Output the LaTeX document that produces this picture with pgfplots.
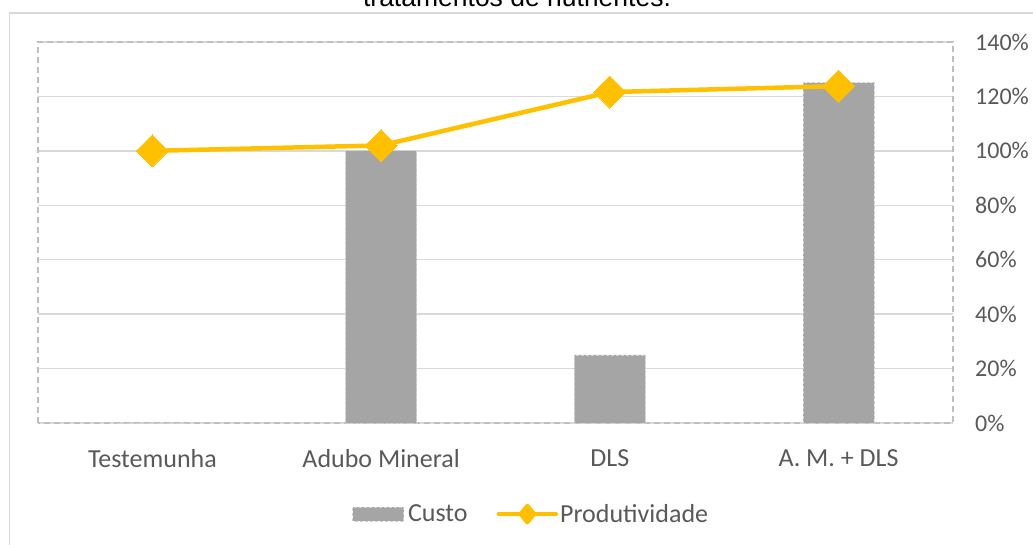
\documentclass[border=0pt]{standalone}
\usepackage{fontspec}
\setmainfont{Carlito}
\newfontfamily\titlefont{Liberation Sans}
\usepackage{pgfplots}
\pgfplotsset{compat=1.18}
\definecolor{barGray}{HTML}{A5A5A5}
\definecolor{barEdge}{HTML}{D0D0D0}
\definecolor{lineGold}{HTML}{FFC000}
\definecolor{gridGray}{HTML}{D9D9D9}
\definecolor{borderGray}{HTML}{BFBFBF}
\definecolor{txtGray}{HTML}{595959}
\begin{document}
\begin{tikzpicture}
\path[use as bounding box] (0pt,0pt) rectangle (1033pt,545pt);
\draw[gridGray, line width=1.3pt] (9.5pt,-20pt) rectangle (1060pt,532pt);
\node[anchor=base, inner sep=0pt, font=\titlefont\fontsize{26.5}{30}\selectfont] at (517pt,538pt) {tratamentos de nutrientes.};
\begin{axis}[
  at={(38pt,122pt)}, anchor=south west,
  scale only axis, width=915pt, height=381pt,
  xmin=-0.5, xmax=3.5, ymin=0, ymax=140,
  xtick={0,1,2,3},
  xticklabels={Testemunha, Adubo Mineral, DLS, A. M. + DLS},
  ytick={0,20,...,140},
  yticklabel={\pgfmathprintnumber{\tick}\%},
  /pgf/number format/assume math mode=true,
  yticklabel pos=right,
  major tick length=0pt,
  ymajorgrids, grid style={gridGray, line width=1.3pt},
  axis line style={borderGray, dashed, line width=1.3pt, dash pattern=on 6pt off 4pt},
  ticklabel style={font=\fontsize{24}{28}\selectfont, text=txtGray},
  yticklabel style={anchor=west, inner sep=0pt, xshift=22pt},
  xticklabel style={anchor=north, inner sep=0pt, yshift=-26pt, font=\fontsize{26}{30}\selectfont},
  legend style={at={(0.539,-0.239)}, anchor=center, draw=none, fill=none,
    font=\fontsize{26}{30}\selectfont, text=txtGray, legend columns=2,
    /tikz/every even column/.append style={column sep=27pt},
    inner sep=0pt},
  clip=false,
]
\addplot[ybar, bar width=71pt, fill=barGray, draw=barEdge, line width=0.8pt, densely dashed,
  legend image code/.code={\draw[fill=barGray, draw=barEdge, line width=0.8pt, densely dashed] (0pt,-7pt) rectangle (51pt,7pt);}]
  coordinates {(0,0) (1,100) (2,25) (3,125)};
\addlegendentry{\hspace{2pt}Custo}
\addplot[lineGold, line width=4.5pt, line join=round, mark=square*, mark size=11.3pt,
  mark options={rotate=45, solid, fill=lineGold, draw=lineGold, line width=0pt},
  legend image code/.code={\draw[lineGold, line width=4.5pt, line cap=round] (0pt,0pt)--(57pt,0pt);
    \fill[lineGold] (28.5pt,-8pt)--(35pt,0pt)--(28.5pt,8pt)--(22pt,0pt)--cycle;}]
  coordinates {(0,100) (1,102) (2,121.6) (3,123.8)};
\addlegendentry{Produtividade}
\end{axis}
\end{tikzpicture}
\end{document}
